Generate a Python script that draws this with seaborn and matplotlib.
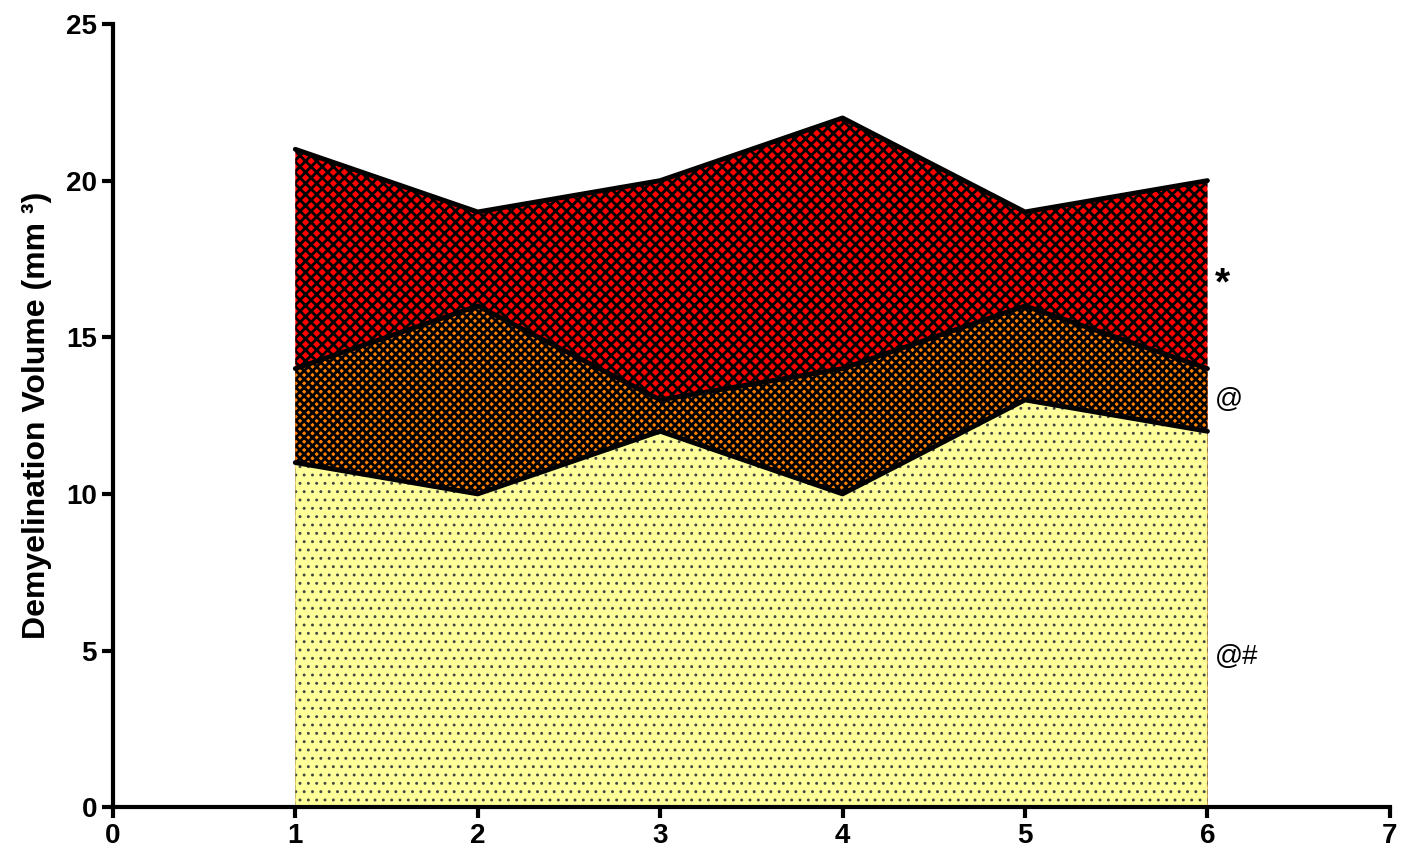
import matplotlib
matplotlib.use("Agg")
import matplotlib.pyplot as plt
import seaborn as sns
import numpy as np
import pandas as pd

x = [1, 2, 3, 4, 5, 6]
red_vals = [21, 19, 20, 22, 19, 20]
orange_vals = [14, 16, 13, 14, 16, 14]
yellow_vals = [11, 10, 12, 10, 13, 12]
annotations = ["*", "@", "@#"]
annot_y = [16.7, 13.0, 4.8]

sns.set_theme(style="ticks")
plt.rcParams['font.family'] = ['Liberation Sans', 'DejaVu Sans']
plt.rcParams['text.color'] = 'black'
plt.rcParams['axes.labelcolor'] = 'black'
plt.rcParams['xtick.color'] = 'black'
plt.rcParams['ytick.color'] = 'black'

fig = plt.figure(figsize=(14.11, 8.56), dpi=100)
ax = fig.add_axes([0.080, 0.057, 0.905, 0.915])

series = [
    (red_vals, "#ff0000", "xxx", 2.0, "black"),
    (orange_vals, "#ff8000", "xxxx", 2.0, "black"),
    (yellow_vals, "#ffff99", "..", 0.9, "#444444"),
]
for vals, col, hatch, hlw, hcol in series:
    plt.rcParams['hatch.linewidth'] = hlw
    ax.fill_between(x, 0, vals, facecolor=col, edgecolor=hcol,
                    hatch=hatch, linewidth=0, zorder=1)
    df = pd.DataFrame({"x": x, "y": vals})
    sns.lineplot(data=df, x="x", y="y", ax=ax, color="black", linewidth=3.5, zorder=3)

ax.set_xlim(0, 7)
ax.set_ylim(0, 25)
ax.set_xticks(range(0, 8))
ax.set_yticks(range(0, 26, 5))
ax.set_xlabel("")
ax.set_ylabel("Demyelination Volume (mm ³)", fontsize=23, fontweight="bold", labelpad=10)
for lab in ax.get_xticklabels() + ax.get_yticklabels():
    lab.set_fontweight("bold")
ax.tick_params(axis="both", labelsize=20, width=3, length=8, direction="out", color="black", labelcolor="black")
for s in ["right", "top"]:
    ax.spines[s].set_visible(False)
for s in ["left", "bottom"]:
    ax.spines[s].set_linewidth(3)
    ax.spines[s].set_color("black")

sizes = [28, 20, 20]
weights = ["bold", "normal", "normal"]
for t, yy, fs, fw in zip(annotations, annot_y, sizes, weights):
    ax.text(6.04, yy, t, fontsize=fs, fontweight=fw, ha="left", va="center", color="black")

fig.savefig("out.png", dpi=100)
